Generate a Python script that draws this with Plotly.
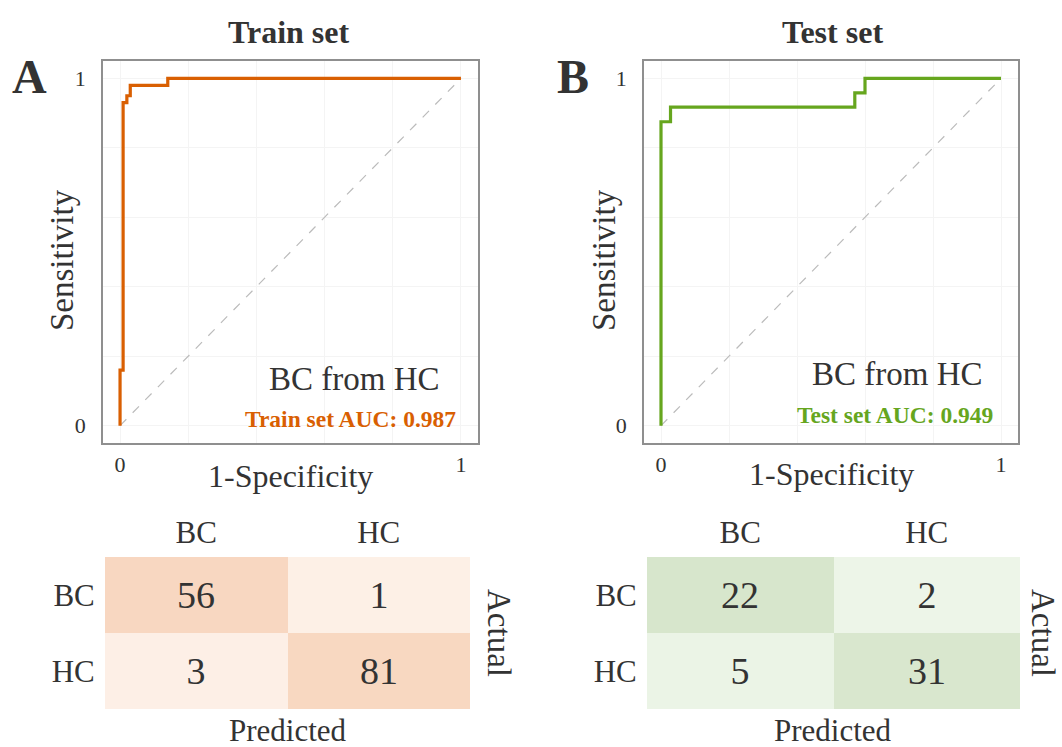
import plotly.graph_objects as go

# ---------------- data ----------------
train_fpr = [0, 0, 0.009, 0.009, 0.02, 0.02, 0.03, 0.03, 0.14, 0.14, 1.0]
train_tpr = [0, 0.16, 0.16, 0.93, 0.93, 0.95, 0.95, 0.98, 0.98, 1.0, 1.0]
test_fpr = [0, 0, 0.028, 0.028, 0.57, 0.57, 0.60, 0.60, 1.0]
test_tpr = [0, 0.875, 0.875, 0.917, 0.917, 0.958, 0.958, 1.0, 1.0]
train_auc = 0.987
test_auc = 0.949

classes = ["BC", "HC"]
train_cm = [[56, 1], [3, 81]]
test_cm = [[22, 2], [5, 31]]

ORANGE = "#D95F02"
GREEN = "#66A61E"
TXT = "#333333"
FONT = "Liberation Serif"
W, H = 1062, 747


def px(x):
    return x / W


def py(y):
    return 1 - y / H


fig = go.Figure()

# ROC curves
for fpr, tpr, col, xa, ya in [
    (train_fpr, train_tpr, ORANGE, "x", "y"),
    (test_fpr, test_tpr, GREEN, "x2", "y2"),
]:
    fig.add_trace(go.Scatter(x=[0, 1], y=[0, 1], mode="lines", xaxis=xa, yaxis=ya,
                             line=dict(color="#BBBBBB", width=1.2, dash="dash"),
                             showlegend=False, hoverinfo="skip"))
    fig.add_trace(go.Scatter(x=fpr, y=tpr, mode="lines", xaxis=xa, yaxis=ya,
                             line=dict(color=col, width=3.2),
                             showlegend=False))


def norm(cm):
    return [[v / sum(row) for v in row] for row in cm]


fig.add_trace(go.Heatmap(z=norm(train_cm), x=classes, y=classes, text=train_cm,
                         texttemplate="%{text}", textfont=dict(size=38, color=TXT, family=FONT),
                         colorscale=[[0, "#FDF0E7"], [1, "#F8D7C0"]], zmin=0, zmax=1,
                         showscale=False, xaxis="x3", yaxis="y3"))
fig.add_trace(go.Heatmap(z=norm(test_cm), x=classes, y=classes, text=test_cm,
                         texttemplate="%{text}", textfont=dict(size=38, color=TXT, family=FONT),
                         colorscale=[[0, "#EFF6EB"], [1, "#D5E4C9"]], zmin=0, zmax=1,
                         showscale=False, xaxis="x4", yaxis="y4"))

roc_ticks = [0, 0.2, 0.4, 0.6, 0.8, 1]
roc_text = ["0", "", "", "", "", "1"]
roc_axis = dict(range=[-0.05, 1.05], tickvals=roc_ticks, ticktext=roc_text,
                showgrid=True, gridcolor="#F4F4F4", gridwidth=1, zeroline=False,
                showline=True, mirror=True, linecolor="#8F8F8F", linewidth=1.5,
                ticks="outside", tickcolor="rgba(0,0,0,0)",
                tickfont=dict(size=22, color=TXT, family=FONT))

ydom = [py(443), py(61)]
fig.update_layout(
    xaxis=dict(roc_axis, domain=[px(103), px(478)], anchor="y", ticklen=1),
    yaxis=dict(roc_axis, domain=ydom, anchor="x", ticklen=11),
    xaxis2=dict(roc_axis, domain=[px(644), px(1018)], anchor="y2", ticklen=1),
    yaxis2=dict(roc_axis, domain=ydom, anchor="x2", ticklen=11),
)

hm_axis = dict(showgrid=False, zeroline=False, showline=False, ticks="outside",
               tickcolor="rgba(0,0,0,0)",
               tickfont=dict(size=31, color=TXT, family=FONT))
hdom = [py(709), py(557)]
fig.update_layout(
    xaxis3=dict(hm_axis, domain=[px(105), px(470)], anchor="y3", side="top", ticklen=1,
                categoryorder="array", categoryarray=classes),
    yaxis3=dict(hm_axis, domain=hdom, anchor="x3", autorange="reversed", ticklen=3,
                categoryorder="array", categoryarray=classes),
    xaxis4=dict(hm_axis, domain=[px(647), px(1020)], anchor="y4", side="top", ticklen=1,
                categoryorder="array", categoryarray=classes),
    yaxis4=dict(hm_axis, domain=hdom, anchor="x4", autorange="reversed", ticklen=3,
                categoryorder="array", categoryarray=classes),
)

ann = []


def A(text, x, y, size, bold=False, color=TXT, angle=0, xanchor="center", xref="paper", yref="paper"):
    t = f"<b>{text}</b>" if bold else text
    ann.append(dict(text=t, x=x, y=y, xref=xref, yref=yref, showarrow=False,
                    xanchor=xanchor, yanchor="middle", textangle=angle,
                    font=dict(size=size, color=color, family=FONT)))


# titles and panel letters
A("Train set", px(289), py(32), 32, bold=True)
A("Test set", px(832), py(32), 32, bold=True)
A("A", px(29), py(77), 48, bold=True)
A("B", px(573), py(77), 48, bold=True)
# ROC axis titles
A("Sensitivity", px(62), py(260), 33, angle=-90)
A("1-Specificity", px(290), py(476), 32)
A("Sensitivity", px(604), py(260), 33, angle=-90)
A("1-Specificity", px(831), py(474), 32)
# inside-plot texts
A("BC from HC", 0.945, 0.135, 33, xanchor="right", xref="x", yref="y")
A(f"Train set AUC: {train_auc:.3f}", 0.99, 0.02, 23.5, bold=True, color=ORANGE,
  xanchor="right", xref="x", yref="y")
A("BC from HC", 0.953, 0.148, 33, xanchor="right", xref="x2", yref="y2")
A(f"Test set AUC: {test_auc:.3f}", 0.982, 0.032, 23.5, bold=True, color=GREEN,
  xanchor="right", xref="x2", yref="y2")
# heatmap side labels
A("Actual", px(499), py(633), 33, angle=90)
A("Predicted", px(288), py(730), 31)
A("Actual", px(1043), py(633), 33, angle=90)
A("Predicted", px(833), py(730), 31)

fig.update_layout(annotations=ann, width=W, height=H,
                  margin=dict(l=0, r=0, t=0, b=0),
                  paper_bgcolor="white", plot_bgcolor="white",
                  font=dict(family=FONT, color=TXT), showlegend=False)

fig.write_html("out.html", config={"displayModeBar": False},
               post_script="document.body.style.margin='0';document.body.style.overflow='hidden';")
